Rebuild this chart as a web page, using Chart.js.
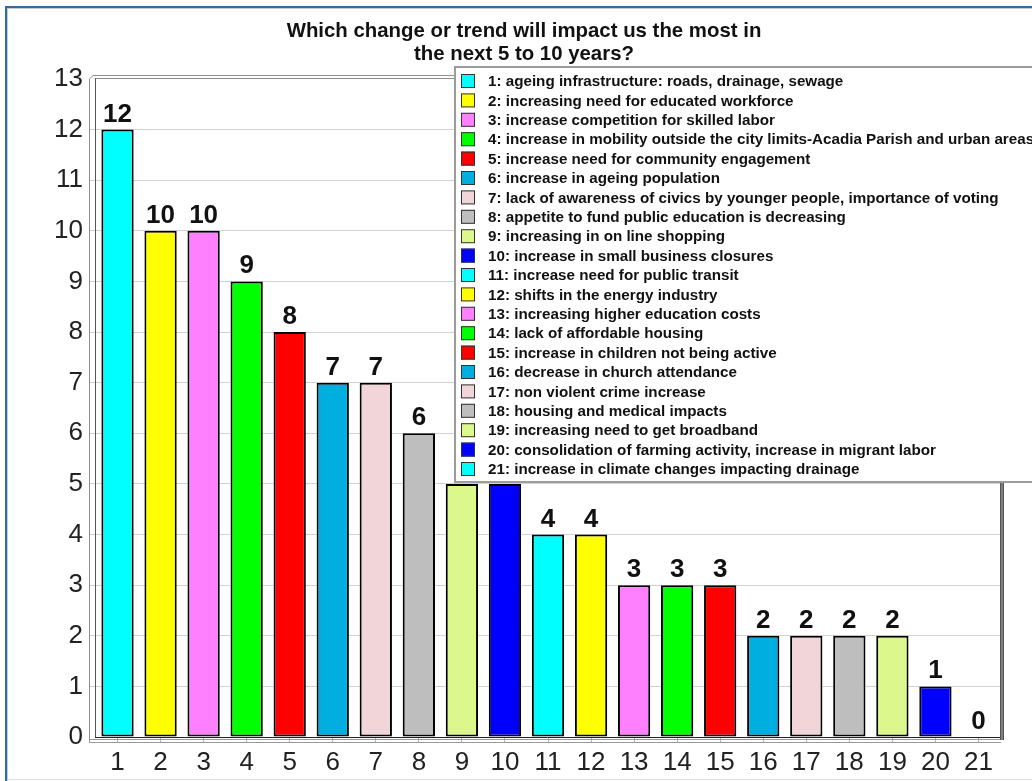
<!DOCTYPE html>
<html>
<head>
<meta charset="utf-8">
<title>Which change or trend will impact us the most</title>
<script src="https://cdn.jsdelivr.net/npm/chart.js@4/dist/chart.umd.min.js"></script>
<style>
  html, body { margin: 0; padding: 0; background: #fff; overflow: hidden; }
  canvas { display: block; }
</style>
</head>
<body>
<canvas id="chart" width="1032" height="781"></canvas>
<script>
// ---- data ----
const titleLines = ['Which change or trend will impact us the most in', 'the next 5 to 10 years?'];

const categories = ['1','2','3','4','5','6','7','8','9','10','11','12','13','14','15','16','17','18','19','20','21'];

const responses = [12, 10, 10, 9, 8, 7, 7, 6, 5, 5, 4, 4, 3, 3, 3, 2, 2, 2, 2, 1, 0];

const descriptions = [
  'ageing infrastructure: roads, drainage, sewage',
  'increasing need for educated workforce',
  'increase competition for skilled labor',
  'increase in mobility outside the city limits-Acadia Parish and urban areas',
  'increase need for community engagement',
  'increase in ageing population',
  'lack of awareness of civics by younger people, importance of voting',
  'appetite to fund public education is decreasing',
  'increasing in on line shopping',
  'increase in small business closures',
  'increase need for public transit',
  'shifts in the energy industry',
  'increasing higher education costs',
  'lack of affordable housing',
  'increase in children not being active',
  'decrease in church attendance',
  'non violent crime increase',
  'housing and medical impacts',
  'increasing need to get broadband',
  'consolidation of farming activity, increase in migrant labor',
  'increase in climate changes impacting drainage'
];

const palette = ['#00FFFF', '#FFFF00', '#FF80FF', '#00FF00', '#FF0000',
                 '#00AEDF', '#F2D5D9', '#BEBEBE', '#DCF88C', '#0000FF'];

const yMin = 0;
const yMax = 13;
const yStep = 1;

// ---- styling helpers ----
const FONT = '"Liberation Sans", Arial, sans-serif';
const barColors = categories.map((_, i) => palette[i % palette.length]);

function hline(ctx, x1, x2, y) { ctx.beginPath(); ctx.moveTo(x1, y); ctx.lineTo(x2, y); ctx.stroke(); }
function vline(ctx, x, y1, y2) { ctx.beginPath(); ctx.moveTo(x, y1); ctx.lineTo(x, y2); ctx.stroke(); }

// page background, window border and title
const chromePlugin = {
  id: 'chrome',
  beforeDraw(chart) {
    const ctx = chart.ctx;
    const W = chart.width, H = chart.height;
    ctx.save();
    ctx.fillStyle = '#ffffff';
    ctx.fillRect(0, 0, W, H);
    ctx.fillStyle = '#2E6CA6';
    ctx.fillRect(5, 6, W - 5, 2);
    ctx.fillRect(5, 6, 2, H - 6);
    ctx.fillStyle = '#c9c9c9';
    ctx.fillRect(7, 8, W - 7, 1);
    ctx.fillRect(7, 8, 1, H - 8);
    ctx.fillStyle = '#dddddd';
    ctx.fillRect(7, H - 2, W - 7, 1);

    ctx.fillStyle = '#111';
    ctx.font = 'bold 20.4px ' + FONT;
    ctx.textAlign = 'center';
    ctx.textBaseline = 'alphabetic';
    ctx.fillText(titleLines[0], 524, 37);
    ctx.fillText(titleLines[1], 524, 60);
    ctx.restore();
  }
};

// box-style frame around the plot: top rim, left wall, floor, right wall
const framePlugin = {
  id: 'frame',
  beforeDatasetsDraw(chart) {
    const ctx = chart.ctx;
    const a = chart.chartArea;
    ctx.save();
    ctx.lineWidth = 1;
    // top rim
    ctx.strokeStyle = '#8f8f8f';
    hline(ctx, a.left - 3, a.right + 4, a.top - 3.5);
    hline(ctx, a.left - 1, a.right + 4, a.top - 0.5);
    ctx.beginPath(); ctx.moveTo(a.left - 6.5, a.top); ctx.lineTo(a.left - 2.5, a.top - 4); ctx.stroke();
    // left wall
    vline(ctx, a.left - 6.5, a.top, a.bottom + 6);
    ctx.strokeStyle = '#555';
    vline(ctx, a.left - 0.5, a.top - 1, a.bottom + 1);
    // floor
    ctx.strokeStyle = '#222';
    hline(ctx, a.left - 1, a.right, a.bottom + 0.5);
    ctx.strokeStyle = '#999';
    hline(ctx, a.left - 7, a.right + 3, a.bottom + 2.5);
    hline(ctx, a.left - 7, a.right + 1, a.bottom + 5.5);
    // right wall
    ctx.fillStyle = '#555';
    ctx.fillRect(a.right, a.top - 4, 4, a.bottom - a.top + 7);
    ctx.fillStyle = '#aaa';
    ctx.fillRect(a.right + 1.5, a.top - 4, 1, a.bottom - a.top + 7);
    ctx.restore();
  }
};

// value labels above the bars, then the legend box drawn over the plot
const overlayPlugin = {
  id: 'overlay',
  afterDatasetsDraw(chart) {
    const ctx = chart.ctx;
    const meta = chart.getDatasetMeta(0);
    const values = chart.data.datasets[0].data;
    ctx.save();
    ctx.fillStyle = '#111';
    ctx.font = 'bold 26px ' + FONT;
    ctx.textAlign = 'center';
    ctx.textBaseline = 'alphabetic';
    meta.data.forEach((bar, i) => {
      ctx.fillText(String(values[i]), bar.x, bar.y - 8);
    });
    ctx.restore();
  },
  afterDraw(chart) {
    const ctx = chart.ctx;
    const boxX = 455, boxY = 67, boxBottom = 482;
    const firstY = 81, rowGap = 19.4;
    ctx.save();
    ctx.fillStyle = '#ffffff';
    ctx.fillRect(boxX, boxY, chart.width - boxX + 10, boxBottom - boxY);
    ctx.strokeStyle = '#9c9c9c';
    ctx.lineWidth = 2;
    ctx.strokeRect(boxX, boxY, chart.width - boxX + 10, boxBottom - boxY);

    ctx.font = 'bold 15.2px ' + FONT;
    ctx.textAlign = 'left';
    ctx.textBaseline = 'middle';
    ctx.lineWidth = 1;
    categories.forEach((cat, i) => {
      const cy = firstY + i * rowGap;
      ctx.fillStyle = barColors[i];
      ctx.fillRect(461, cy - 7, 14, 14);
      ctx.strokeStyle = '#333';
      ctx.strokeRect(461.5, cy - 6.5, 13, 13);
      ctx.fillStyle = '#111';
      ctx.fillText(cat + ': ' + descriptions[i], 488, cy + 1);
    });
    ctx.restore();
  }
};

new Chart(document.getElementById('chart'), {
  type: 'bar',
  data: {
    labels: categories,
    datasets: [{
      data: responses,
      backgroundColor: barColors,
      borderColor: '#000',
      borderWidth: 2,
      borderSkipped: false,
      barPercentage: 0.75,
      categoryPercentage: 1.0
    }]
  },
  options: {
    responsive: false,
    animation: false,
    events: [],
    layout: { padding: { left: 0, right: 32, top: 79, bottom: 0 } },
    plugins: {
      legend: { display: false },
      title: { display: false },
      tooltip: { enabled: false }
    },
    scales: {
      x: {
        offset: true,
        border: { display: false },
        grid: {
          display: true,
          drawOnChartArea: false,
          drawTicks: true,
          tickLength: 5,
          offset: false,
          color: '#b0b0b0'
        },
        ticks: {
          color: '#222',
          font: { family: FONT, size: 26 },
          padding: 5,
          maxRotation: 0,
          autoSkip: false
        },
        afterFit(scale) { scale.height = 44; }
      },
      y: {
        min: yMin,
        max: yMax,
        border: { display: false },
        grid: {
          color: (c) => (c.tick && (c.tick.value === yMax || c.tick.value === yMin)) ? 'rgba(0,0,0,0)' : '#d2d2d2',
          tickLength: 7,
          lineWidth: 1
        },
        ticks: {
          stepSize: yStep,
          color: '#222',
          font: { family: FONT, size: 26 },
          padding: 6
        },
        afterFit(scale) { scale.width = 96; }
      }
    }
  },
  plugins: [chromePlugin, framePlugin, overlayPlugin]
});
</script>
</body>
</html>
